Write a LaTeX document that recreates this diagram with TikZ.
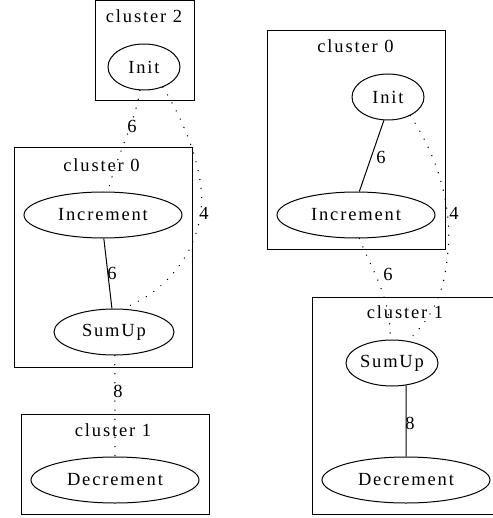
\documentclass[tikz,border=0pt]{standalone}
\usepackage{fontspec}
\newfontfamily\gvserif[LetterSpace=10]{Liberation Serif}
\newcommand\gvtext{\gvserif\fontsize{18.5}{21}\selectfont}
\usepackage{tikz}
\usetikzlibrary{shapes.geometric}

\tikzset{
  cluster/.style={draw, line width=1pt},
  task/.style={draw, ellipse, line width=1pt, inner sep=0pt, minimum height=46pt, font=\gvtext},
  lbl/.style={inner sep=0pt, font=\gvtext},
  bond/.style={line width=1pt},
  cut/.style={line width=1.4pt, line cap=round, dash pattern=on 0.1pt off 9pt}
}

\begin{document}
\begin{tikzpicture}[x=1pt, y=-1pt]
  \useasboundingbox (0,0) rectangle (492,518);
  % left layout: three clusters stacked
  \draw[cluster] (95,0.8) rectangle (194,101);
  \draw[cluster] (14,148) rectangle (192,367);
  \draw[cluster] (21,414) rectangle (209,514);
  \node[lbl] (lc2) at (144,16.5) {cluster 2};
  \node[lbl] (lc0) at (101.5,165) {cluster 0};
  \node[lbl] (lc1) at (113,430) {cluster 1};
  \node[task, minimum width=72pt] (lInit) at (144,67) {Init};
  \node[task, minimum width=158pt] (lInc) at (103,215) {Increment};
  \node[task, minimum width=120pt] (lSum) at (114,332) {SumUp};
  \node[task, minimum width=168pt] (lDec) at (115,480) {Decrement};
  \draw[bond] (lInc.-88) -- (lSum.95);
  \draw[cut] (lInit.-100) .. controls (136,120) and (115,160) .. (lInc.78);
  \draw[cut] (lInit.-47) .. controls (190,130) and (205,180) .. (201,210)
             .. controls (197,250) and (170,290) .. (lSum.70);
  \draw[cut] (lSum.-88) -- (lDec.90);
  \node[lbl] (lw1) at (132,126) {6};
  \node[lbl] (lw2) at (112,273) {6};
  \node[lbl] (lw3) at (204,213) {4};
  \node[lbl] (lw4) at (118,391) {8};

  % right layout: two clusters
  \draw[cluster] (267,31) rectangle (445,249);
  \draw[cluster] (312,297) rectangle (494,514);
  \node[lbl] (rc0) at (355.5,46) {cluster 0};
  \node[lbl] (rc1) at (405,312) {cluster 1};
  \node[task, minimum width=72pt] (rInit) at (388,97) {Init};
  \node[task, minimum width=158pt] (rInc) at (356,215) {Increment};
  \node[task, minimum width=92pt] (rSum) at (392,363) {SumUp};
  \node[task, minimum width=168pt] (rDec) at (406,480) {Decrement};
  \draw[bond] (rInit.-100) -- (rInc.82);
  \draw[bond] (rSum.-58.5) -- (rDec.90);
  \draw[cut] (rInit.-40) .. controls (440,160) and (452,210) .. (448,250)
             .. controls (445,290) and (435,315) .. (rSum.55);
  \draw[cut] (rInc.-82) .. controls (372,270) and (392,300) .. (rSum.95);
  \node[lbl] (rw1) at (381,157) {6};
  \node[lbl] (rw2) at (388,274) {6};
  \node[lbl] (rw3) at (454,213) {4};
  \node[lbl] (rw4) at (410,423) {8};
\end{tikzpicture}
\end{document}
